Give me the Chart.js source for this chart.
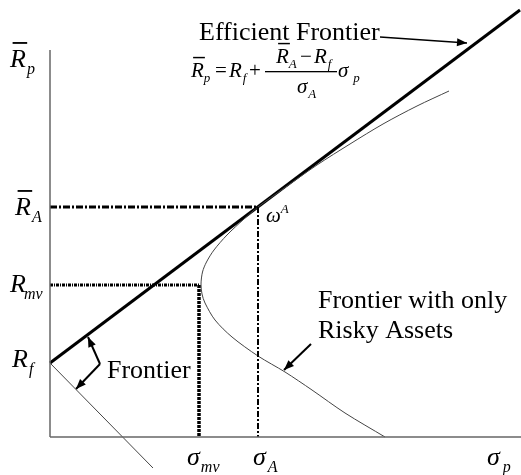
<!DOCTYPE html>
<html>
<head>
<meta charset="utf-8">
<script src="https://cdn.jsdelivr.net/npm/chart.js@4"></script>
<style>
  html, body { margin: 0; padding: 0; background: #fff; }
  #caixa { width: 521px; height: 475px; position: relative; }
</style>
</head>
<body>
<div id="caixa"><canvas id="grafico"></canvas></div>
<script>
// fronteira so com ativos de risco (risco, retorno)
const riscoCurva = [39.9, 36.7, 33.3, 30.0, 26.7, 23.3, 20.8, 19.4, 17.7, 16.4, 15.65, 15.25, 15.1, 15.2, 15.5, 16.5, 18.2, 20.8, 23.5, 26.2, 29.5, 33.5];
const retornoCurva = [34.6, 33.1, 31.3, 29.3, 27.2, 24.8, 23.0, 21.8, 20.2, 18.7, 17.5, 16.5, 15.3, 14.3, 13.4, 11.7, 10.0, 8.1, 6.5, 4.7, 2.4, 0];

// valores marcados nos eixos
const Rf = 7.4;
const RA = 23.0;
const Rmv = 15.2;
const sigmaA = 20.8;
const sigmaMv = 14.9;

// extremos das retas e dos eixos
const fimFronteira = [47.0, 42.7];
const fimRetaInferior = [10.3, -3.1];
const topoEixoY = 38.7;
const fimEixoX = 47.1;

// setas
const setaTitulo = [[33.0, 40.0], [41.7, 39.4]];
const setaRisco = [[26.1, 9.3], [23.4, 6.7]];
const cotovelo = [5.0, 7.3];
const pontaCima = [3.8, 10.0];
const pontaBaixo = [2.6, 4.8];

const serif = "'Liberation Serif', 'Times New Roman', serif";

function pares(lista) {
  return lista.map(p => ({ x: p[0], y: p[1] }));
}

function linha(pontos, cor, largura, extra) {
  return Object.assign({
    data: pares(pontos),
    borderColor: cor,
    borderWidth: largura,
    showLine: true,
    pointRadius: 0,
    fill: false,
    clip: false
  }, extra || {});
}

// letra em italico com barra, subscrito ou sobrescrito
function mat(ctx, x, y, base, op) {
  const tam = op.tam || 26;
  ctx.font = `italic ${tam}px ${serif}`;
  ctx.fillText(base, x, y);
  const w = ctx.measureText(base).width;
  if (op.barra) {
    ctx.fillRect(x + tam * 0.1, y - tam * 0.96, w - tam * 0.05, Math.max(1.2, tam * 0.07));
  }
  const t2 = Math.round(tam * 0.62);
  ctx.font = `italic ${t2}px ${serif}`;
  if (op.sub) ctx.fillText(op.sub, x + w + (op.dx || 0), y + tam * 0.25);
  if (op.sup) ctx.fillText(op.sup, x + w + (op.dx || 0), y - tam * 0.42);
}

function texto(ctx, t, x, y, tam) {
  ctx.font = `${tam}px ${serif}`;
  ctx.fillText(t, x, y);
}

const anotacoes = {
  id: "anotacoes",
  afterDatasetsDraw(chart) {
    const ctx = chart.ctx;
    const sx = chart.scales.x, sy = chart.scales.y;
    const px = v => sx.getPixelForValue(v);
    const py = v => sy.getPixelForValue(v);
    const X0 = px(0), Y0 = py(0);

    ctx.save();
    ctx.fillStyle = "#000";
    ctx.textBaseline = "alphabetic";

    // pontas das setas
    chart.data.datasets.forEach((ds, i) => {
      if (!ds.seta) return;
      const pts = chart.getDatasetMeta(i).data;
      const a = pts[pts.length - 2], b = pts[pts.length - 1];
      const ang = Math.atan2(b.y - a.y, b.x - a.x);
      const c = 10, l = 4;
      ctx.beginPath();
      ctx.moveTo(b.x, b.y);
      ctx.lineTo(b.x - c * Math.cos(ang) + l * Math.sin(ang), b.y - c * Math.sin(ang) - l * Math.cos(ang));
      ctx.lineTo(b.x - c * Math.cos(ang) - l * Math.sin(ang), b.y - c * Math.sin(ang) + l * Math.cos(ang));
      ctx.closePath();
      ctx.fill();
    });

    // rotulos dos eixos
    mat(ctx, X0 - 40, py(topoEixoY) + 17, "R", { barra: true, sub: "p", dx: 1 });
    mat(ctx, X0 - 35, py(RA) + 8, "R", { barra: true, sub: "A", dx: 1 });
    mat(ctx, X0 - 40, py(Rmv) + 7, "R", { sub: "mv", dx: -2 });
    mat(ctx, X0 - 38, py(Rf) + 4, "R", { sub: "f", dx: 1 });
    mat(ctx, px(sigmaMv) - 12, Y0 + 28, "σ", { sub: "mv", dx: 1 });
    mat(ctx, px(sigmaA) - 5, Y0 + 28, "σ", { sub: "A", dx: 2 });
    mat(ctx, px(fimEixoX) - 34, Y0 + 28, "σ", { sub: "p", dx: 3 });
    mat(ctx, px(sigmaA) + 8, py(RA) + 15, "ω", { tam: 21, sup: "A", dx: 0 });

    // textos
    texto(ctx, "Efficient Frontier", 199, 40, 26);
    texto(ctx, "Frontier with only", 318, 308, 26);
    texto(ctx, "Risky Assets", 318, 338, 26);
    texto(ctx, "Frontier", 107, 378, 26);

    // formula da fronteira eficiente
    mat(ctx, 191, 77, "R", { tam: 21, barra: true, sub: "p", dx: 0 });
    texto(ctx, "=", 215, 77, 21);
    mat(ctx, 229, 77, "R", { tam: 21, sub: "f", dx: 1 });
    texto(ctx, "+", 249, 77, 21);
    ctx.fillRect(265, 71, 72, 1.3);
    mat(ctx, 276, 63, "R", { tam: 21, barra: true, sub: "A", dx: 0 });
    texto(ctx, "\u2212", 300, 63, 21);
    mat(ctx, 314, 63, "R", { tam: 21, sub: "f", dx: 1 });
    mat(ctx, 297, 93, "σ", { tam: 21, sub: "A", dx: 1 });
    mat(ctx, 338, 77, "σ", { tam: 21, sub: "p", dx: 5 });

    ctx.restore();
  }
};

const curva = riscoCurva.map((s, i) => [s, retornoCurva[i]]);

new Chart(document.getElementById("grafico"), {
  type: "scatter",
  data: {
    datasets: [
      linha([[0, 0], [0, topoEixoY]], "#666", 1.5),
      linha([[0, 0], [fimEixoX, 0]], "#666", 1.5),
      linha([[0, RA], [sigmaA, RA]], "#000", 3, { borderDash: [7, 2, 2, 2] }),
      linha([[sigmaA, RA], [sigmaA, 0]], "#000", 2, { borderDash: [6, 2, 2, 2] }),
      linha([[0, Rmv], [sigmaMv, Rmv]], "#000", 3, { borderDash: [3, 1, 1, 1] }),
      linha([[sigmaMv, Rmv], [sigmaMv, 0]], "#000", 3.5, { borderDash: [3, 1] }),
      linha(curva, "#444", 1, { tension: 0.3 }),
      linha([[0, Rf], fimRetaInferior], "#444", 1),
      linha([[0, Rf], fimFronteira], "#000", 3),
      linha(setaTitulo, "#000", 1.5, { seta: true }),
      linha(setaRisco, "#000", 2, { seta: true }),
      linha([cotovelo, pontaCima], "#000", 2, { seta: true }),
      linha([cotovelo, pontaBaixo], "#000", 2, { seta: true })
    ]
  },
  options: {
    responsive: true,
    maintainAspectRatio: false,
    animation: false,
    layout: { padding: { left: 50, right: 1, top: 7, bottom: 38 } },
    plugins: { legend: { display: false }, tooltip: { enabled: false } },
    scales: {
      x: { type: "linear", min: 0, max: 47, display: false },
      y: { type: "linear", min: 0, max: 43, display: false }
    }
  },
  plugins: [anotacoes]
});
</script>
</body>
</html>
